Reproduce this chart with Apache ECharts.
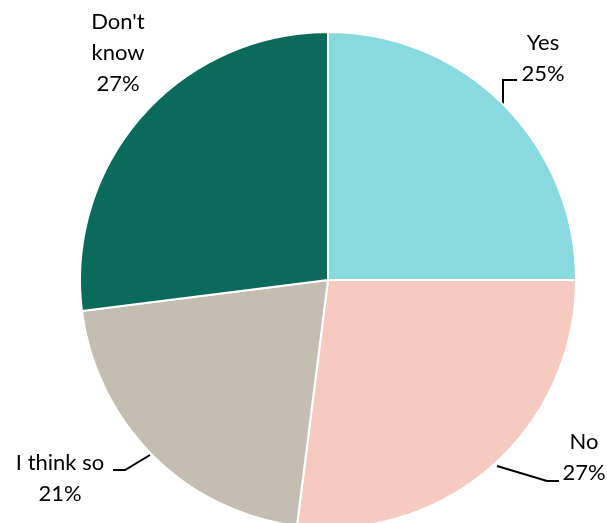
<!DOCTYPE html>
<html>
<head>
<meta charset="utf-8">
<script src="https://cdn.jsdelivr.net/npm/echarts@6/dist/echarts.min.js"></script>
<style>
  html, body { margin: 0; padding: 0; background: #fff; }
  #chart { width: 607px; height: 523px; }
</style>
</head>
<body>
<div id="chart"></div>
<script>
// Survey answers, shares in percent
const categories = ['Yes', 'No', 'I think so', "Don't know"];
const labelText = ['Yes', 'No', 'I think so', "Don't\nknow"];
const values = [25, 27, 21, 27];
const colors = ['#88DADF', '#F5CBC1', '#C4BDB2', '#0B6B5A'];

const cx = 328, cy = 280, r = 248;

// label anchor (centre of text block) and leader line points per slice
const labelAnchors = [
  { x: 543, y: 58, line: [[503, 104], [503, 80], [517, 80]] },
  { x: 584, y: 457, line: [[497, 466], [547, 481], [559, 481]] },
  { x: 60, y: 478, line: [[150, 455], [125, 470], [113, 470]] },
  { x: 118, y: 53, line: null }
];

const chart = echarts.init(document.getElementById('chart'));
chart.setOption({
  animation: false,
  series: [{
    type: 'pie',
    center: [cx, cy],
    radius: [0, r],
    startAngle: 90,
    clockwise: true,
    data: categories.map((c, i) => ({
      name: c,
      value: values[i],
      itemStyle: { color: colors[i] }
    })),
    itemStyle: { borderColor: '#ffffff', borderWidth: 2 },
    label: {
      show: true,
      position: 'outside',
      color: '#000',
      fontFamily: 'Lato, "Open Sans", sans-serif',
      fontSize: 22,
      lineHeight: 31,
      align: 'center',
      formatter: p => labelText[p.dataIndex] + '\n' + p.value + '%'
    },
    labelLine: {
      show: true,
      lineStyle: { color: '#000', width: 2 }
    },
    labelLayout: function (params) {
      const a = labelAnchors[params.dataIndex];
      const out = {
        x: a.x,
        y: a.y,
        align: 'center',
        verticalAlign: 'middle'
      };
      out.labelLinePoints = a.line ? a.line : [[a.x, a.y], [a.x, a.y], [a.x, a.y]];
      return out;
    }
  }]
});
</script>
</body>
</html>
